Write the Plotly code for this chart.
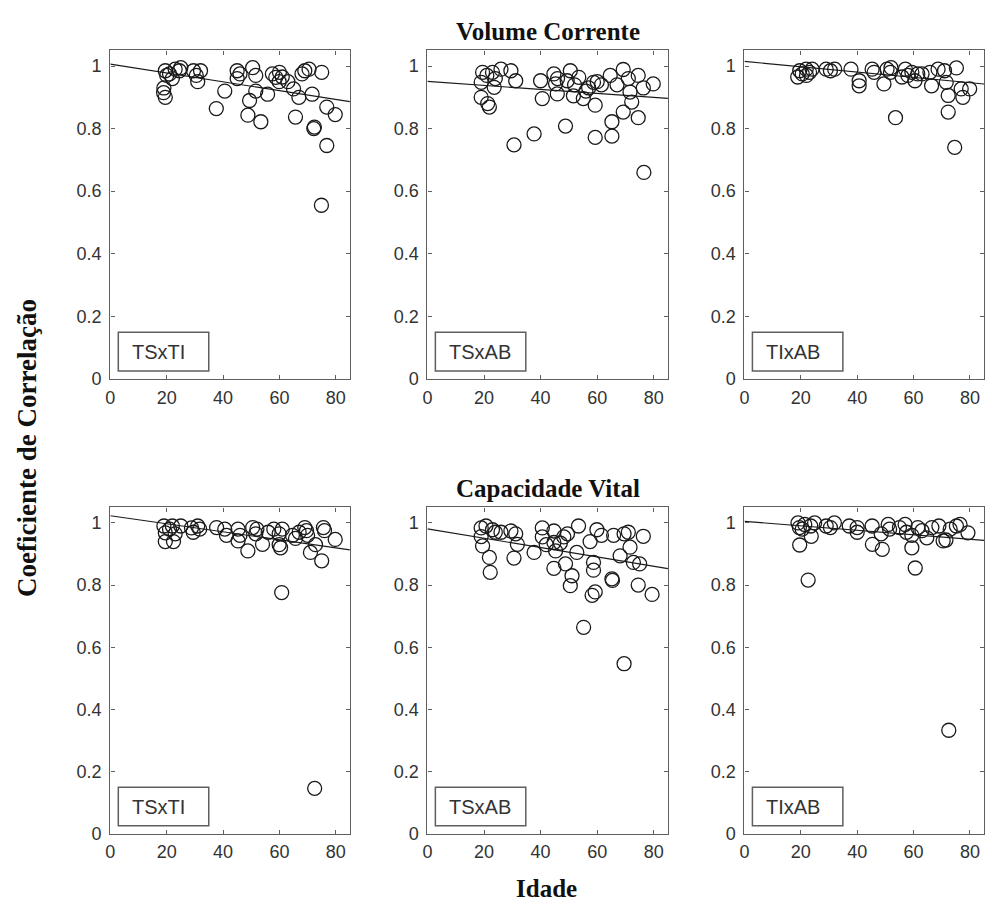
import plotly.graph_objects as go

# ---------------- data ----------------
panel_labels = ["TSxTI", "TSxAB", "TIxAB", "TSxTI", "TSxAB", "TIxAB"]
row_titles = ["Volume Corrente", "Capacidade Vital"]
x_label = "Idade"
y_label = "Coeficiente de Correlação"
x_ticks = [0, 20, 40, 60, 80]
y_ticks = [0, 0.2, 0.4, 0.6, 0.8, 1]

vc_tsxti_age = [19.5, 21, 23, 24.5, 22, 20, 19, 19.5, 18.9, 25, 29.5, 31, 32, 30.5, 40.6, 37.6, 45, 45, 46,
                50.5, 51.6, 49.4, 48.8, 53.4, 51.6, 55.8, 58.7, 59.9, 61, 57.5, 60, 65, 65.7, 66.9, 69, 70.5,
                71.6, 72.2, 72.4, 75, 76.8, 79.8, 76.8, 74.9, 63, 68]
vc_tsxti_r = [0.985, 0.975, 0.99, 0.985, 0.96, 0.97, 0.93, 0.90, 0.915, 0.995, 0.985, 0.95, 0.985, 0.97, 0.92,
              0.864, 0.985, 0.96, 0.975, 0.995, 0.97, 0.89, 0.843, 0.822, 0.92, 0.91, 0.964, 0.95, 0.965, 0.975,
              0.98, 0.927, 0.837, 0.90, 0.985, 0.99, 0.91, 0.80, 0.805, 0.98, 0.869, 0.845, 0.746, 0.555, 0.95, 0.975]

vc_tsxab_age = [19.5, 23, 26, 29.5, 19, 23.6, 19, 21.3, 21.9, 31.2, 30.6, 37.7, 40, 40.6, 44.7, 45.3, 45.9, 48.8,
                50.5, 49.4, 53.5, 51.6, 55.1, 58.7, 59.3, 59.3, 61.5, 64.6, 65.2, 65.2, 69.2, 69.2, 71.6, 72.2,
                74.5, 74.5, 79.8, 76.3, 76.5, 21, 24, 46, 52, 57, 60, 67, 71, 56]
vc_tsxab_r = [0.98, 0.98, 0.99, 0.985, 0.948, 0.932, 0.90, 0.88, 0.869, 0.953, 0.748, 0.783, 0.953, 0.896, 0.975,
              0.943, 0.911, 0.808, 0.985, 0.953, 0.964, 0.905, 0.896, 0.948, 0.875, 0.772, 0.94, 0.97, 0.822,
              0.776, 0.989, 0.853, 0.917, 0.885, 0.97, 0.835, 0.943, 0.93, 0.66, 0.97, 0.96, 0.96, 0.94, 0.93,
              0.95, 0.94, 0.96, 0.92]

vc_tixab_age = [19.6, 21.9, 23.1, 18.9, 20.5, 22, 24, 29, 32, 30.5, 37.8, 40.7, 40.7, 45.3, 46, 49.5, 50.6, 51.8,
                53.6, 55.9, 57.1, 59.4, 60.5, 61.5, 65.8, 66.4, 68.7, 71, 71.6, 72.3, 72.3, 75.2, 74.6, 76.9,
                77.5, 79.9, 58, 63, 52]
vc_tixab_r = [0.985, 0.99, 0.98, 0.965, 0.975, 0.97, 0.99, 0.99, 0.99, 0.985, 0.99, 0.953, 0.937, 0.99, 0.98,
              0.943, 0.99, 0.98, 0.835, 0.965, 0.99, 0.98, 0.953, 0.975, 0.98, 0.937, 0.99, 0.985, 0.948, 0.906,
              0.853, 0.994, 0.74, 0.927, 0.90, 0.927, 0.97, 0.975, 0.995]

cv_tsxti_age = [19, 22, 25, 19.5, 23, 19.5, 22.4, 21, 28.8, 31, 31.7, 29.4, 37.7, 40.6, 41.2, 45.3, 46, 45.3, 48.8,
                50.5, 52, 51.6, 54, 58, 59.9, 59.9, 60.4, 61, 60.8, 64.6, 65.7, 69, 69.6, 70, 71, 72.8, 75, 75.6,
                76, 79.8, 72.5, 56, 67]
cv_tsxti_r = [0.99, 0.99, 0.99, 0.968, 0.965, 0.94, 0.94, 0.98, 0.984, 0.99, 0.98, 0.97, 0.985, 0.98, 0.96, 0.98,
              0.96, 0.942, 0.91, 0.985, 0.98, 0.965, 0.931, 0.98, 0.965, 0.93, 0.92, 0.98, 0.776, 0.96, 0.95,
              0.985, 0.975, 0.96, 0.905, 0.93, 0.878, 0.985, 0.975, 0.947, 0.146, 0.97, 0.97]

cv_tsxab_age = [19, 20.7, 23, 24, 19, 19.5, 21.9, 22.2, 29.5, 31.2, 31.8, 30.6, 37.7, 40.6, 40.6, 44.7, 44.7, 45.3,
                44.7, 48.2, 49.5, 48.8, 51.1, 50.5, 53.4, 52.8, 55.2, 57.5, 58.7, 58.7, 59.3, 58.2, 59.9, 61.5,
                65.2, 65.4, 65.8, 68.1, 69.5, 71, 71.6, 69.5, 72.8, 75, 74.5, 76.3, 79.4, 26, 42, 47]
cv_tsxab_r = [0.984, 0.99, 0.978, 0.97, 0.956, 0.926, 0.889, 0.841, 0.974, 0.965, 0.931, 0.887, 0.905, 0.984,
              0.955, 0.974, 0.937, 0.91, 0.854, 0.955, 0.965, 0.868, 0.83, 0.798, 0.99, 0.905, 0.664, 0.94, 0.873,
              0.848, 0.778, 0.767, 0.978, 0.96, 0.82, 0.815, 0.96, 0.894, 0.965, 0.97, 0.922, 0.547, 0.873,
              0.868, 0.80, 0.957, 0.77, 0.97, 0.93, 0.935]

cv_tixab_age = [19, 21.4, 23.5, 24.9, 19.5, 20.5, 23.7, 19.6, 22.6, 29, 31.9, 30.5, 37.2, 40, 40, 45.3, 45.4, 48.9,
                48.5, 51, 51.5, 57, 57.5, 59.4, 59.4, 60.6, 61.5, 64.7, 66.5, 69, 70.5, 71.5, 75.2, 76.5, 79.3,
                72.5, 55, 63, 73]
cv_tixab_r = [1.0, 0.995, 0.99, 1.0, 0.985, 0.98, 0.957, 0.929, 0.816, 0.99, 1.0, 0.985, 0.99, 0.985, 0.97, 0.99,
              0.931, 0.915, 0.965, 0.995, 0.98, 0.995, 0.97, 0.96, 0.92, 0.855, 0.985, 0.952, 0.985, 0.99, 0.942,
              0.945, 0.99, 0.995, 0.968, 0.333, 0.985, 0.975, 0.98]

# linear fit coefficients (intercept, slope)
fit_intercept = [1.006, 0.951, 1.015, 1.023, 0.981, 1.005]
fit_slope = [-0.00141, -0.00064, -0.00085, -0.00129, -0.00151, -0.00072]
fit_x = [0, 85]

ages = [vc_tsxti_age, vc_tsxab_age, vc_tixab_age, cv_tsxti_age, cv_tsxab_age, cv_tixab_age]
rs = [vc_tsxti_r, vc_tsxab_r, vc_tixab_r, cv_tsxti_r, cv_tsxab_r, cv_tixab_r]

# ---------------- layout ----------------
W, H = 985, 911
col_px = [(106, 347), (425, 667), (744, 985)]
row_px = [(51, 383), (513, 843)]


def fx(px):
    return px / W


def fy(py):
    return 1 - py / H


AX = "#5f5f5f"
TXT = "#333333"
fig = go.Figure()
layout = dict(width=W, height=H, margin=dict(l=0, r=0, t=0, b=0, pad=0),
              paper_bgcolor="white", plot_bgcolor="white", showlegend=False)
annotations = []
shapes = []

for i in range(6):
    r, c = divmod(i, 3)
    n = i + 1
    xa = "x" if n == 1 else f"x{n}"
    ya = "y" if n == 1 else f"y{n}"
    x0, x1 = col_px[c]
    y0, y1 = row_px[r]
    axcommon = dict(showline=True, linecolor=AX, linewidth=1.3, mirror="allticks", ticks="inside",
                    ticklen=4, tickcolor=AX, showgrid=False, zeroline=False,
                    tickfont=dict(family="Liberation Sans, Arial", size=18, color=TXT))
    layout["xaxis" if n == 1 else f"xaxis{n}"] = dict(
        domain=[fx(x0), min(fx(x1), 1)], anchor=ya, range=[0, 85], tickvals=x_ticks,
        ticklabelstandoff=2, **axcommon)
    layout["yaxis" if n == 1 else f"yaxis{n}"] = dict(
        domain=[fy(y1), fy(y0)], anchor=xa, range=[0, 1.05], tickvals=y_ticks,
        ticklabelstandoff=4, **axcommon)

    fig.add_trace(go.Scatter(x=ages[i], y=rs[i], mode="markers", xaxis=xa, yaxis=ya,
                             marker=dict(symbol="circle-open", size=14, color="#1a1a1a",
                                         line=dict(width=1.3, color="#1a1a1a"))))
    fig.add_trace(go.Scatter(x=fit_x, y=[fit_intercept[i] + fit_slope[i] * v for v in fit_x],
                             mode="lines", xaxis=xa, yaxis=ya,
                             line=dict(color="#1a1a1a", width=1.2)))

    # label box
    wpx = x1 - x0
    hpx = y1 - y0
    shapes.append(dict(type="rect", xref=f"{xa} domain", yref=f"{ya} domain",
                       x0=8 / wpx, x1=99 / wpx, y0=8 / hpx, y1=47 / hpx,
                       line=dict(color=AX, width=1.5), fillcolor="white"))
    annotations.append(dict(text=panel_labels[i], xref=f"{xa} domain", yref=f"{ya} domain",
                            x=20 / wpx, y=27.5 / hpx, xanchor="left", yanchor="middle", showarrow=False,
                            font=dict(family="Liberation Sans, Arial", size=20, color=TXT)))

SERIF = "Liberation Serif, Times New Roman"
for r, t in enumerate(row_titles):
    annotations.append(dict(text=f"<b>{t}</b>", xref="paper", yref="paper", x=fx(546),
                            y=fy(row_px[r][0] - 3), xanchor="center", yanchor="bottom",
                            showarrow=False, font=dict(family=SERIF, size=25, color="#111")))
annotations.append(dict(text=f"<b>{x_label}</b>", xref="paper", yref="paper", x=fx(545), y=fy(898),
                        xanchor="center", yanchor="middle", showarrow=False,
                        font=dict(family=SERIF, size=25, color="#111")))
annotations.append(dict(text=f"<b>{y_label}</b>", xref="paper", yref="paper", x=fx(22), y=fy(453),
                        xanchor="center", yanchor="middle", showarrow=False, textangle=-90,
                        font=dict(family=SERIF, size=27, color="#111")))

layout["annotations"] = annotations
layout["shapes"] = shapes
fig.update_layout(**layout)
fig.write_html("out.html", config={"displayModeBar": False},
               post_script="document.body.style.margin='0px';document.body.style.overflow='hidden';")
